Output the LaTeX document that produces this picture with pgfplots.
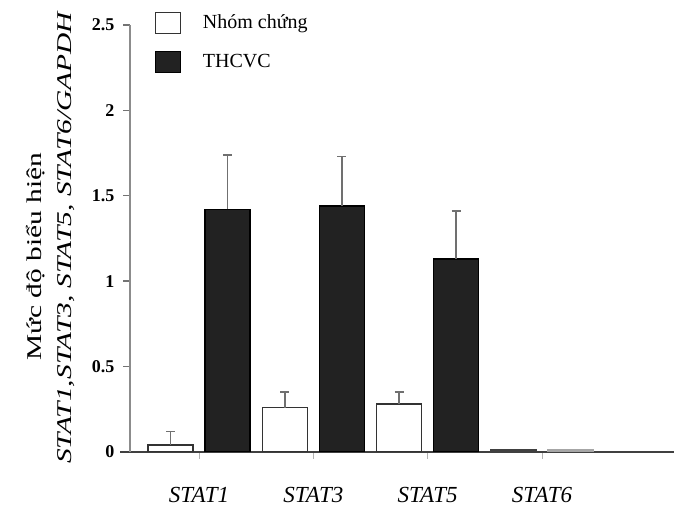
\documentclass[border=0pt]{standalone}
\usepackage{fontspec}
\setmainfont{Liberation Serif}
\usepackage{pgfplots}
\pgfplotsset{compat=1.18}
\definecolor{barblack}{HTML}{222222}
\definecolor{errgray}{HTML}{707070}
\begin{document}
\begin{tikzpicture}
\path[use as bounding box] (0,0) rectangle (674pt,508pt);
\begin{axis}[
  at={(130pt,56pt)}, anchor=south west,
  scale only axis, width=544pt, height=427pt,
  xmin=0.3965, xmax=5.1545, ymin=0, ymax=2.5,
  axis lines*=left,
  x axis line style={line width=1.8pt, color=black!75, shorten <=-10pt},
  y axis line style={line width=1.4pt, color=black!45},
  ytick={0,0.5,1,1.5,2,2.5},
  yticklabels={0,0.5,1,1.5,2,2.5},
  /pgf/number format/assume math mode=true,
  yticklabel style={font=\fontsize{18}{18}\selectfont\bfseries, xshift=-5pt},
  xtick={1,2,3,4},
  xticklabels={STAT1,STAT3,STAT5,STAT6},
  xticklabel style={font=\fontsize{23}{23}\selectfont\itshape, yshift=-25pt},
  tick align=outside, major tick length=7pt,
  x tick style={black!30, line width=0.8pt},
  y tick style={black!55, line width=1.4pt},
  ybar, bar width=45pt,
  legend style={at={(axis description cs:0.045,1.032)}, anchor=north west,
    draw=none, fill=none, font=\fontsize{20}{20}\selectfont,
    row sep=17pt, inner sep=0pt,
    /tikz/every odd column/.append style={column sep=20pt}},
  legend cell align=left,
  mybar/.style={legend image code/.code={\draw[##1, line width=1.3pt] (0pt,-11pt) rectangle (25pt,10pt);}},
  myerr/.style={error bars/.cd, y dir=plus, y explicit,
    error bar style={color=errgray, line width=1.8pt},
    error mark options={rotate=90, mark size=4.5pt, color=errgray, line width=1.8pt}},
]
\addplot[mybar, fill=white, draw=black!80, line width=1.5pt, bar shift=-28.5pt, myerr]
  coordinates {(1,0.04) +- (0,0.08) (2,0.26) +- (0,0.09) (3,0.28) +- (0,0.07)};
\addplot[mybar, fill=barblack, draw=black, line width=1.2pt, bar shift=28.5pt, myerr]
  coordinates {(1,1.42) +- (0,0.32) (2,1.44) +- (0,0.29) (3,1.13) +- (0,0.28)};
\legend{Nhóm chứng, THCVC}
\addplot[fill=black!70, draw=black!75, line width=1.2pt, bar shift=-28.5pt, forget plot]
  coordinates {(4,0.012)};
\addplot[fill=black!40, draw=black!35, line width=1.2pt, bar shift=28.5pt, forget plot]
  coordinates {(4,0.012)};
\end{axis}
\node[rotate=90, xscale=1.4, font=\fontsize{21}{21}\selectfont] at (36pt,251pt) {Mức độ biểu hiện};
\node[rotate=90, xscale=1.4, font=\fontsize{21}{21}\selectfont\itshape] at (66pt,270pt) {STAT1,STAT3, STAT5, STAT6/GAPDH};
\end{tikzpicture}
\end{document}
